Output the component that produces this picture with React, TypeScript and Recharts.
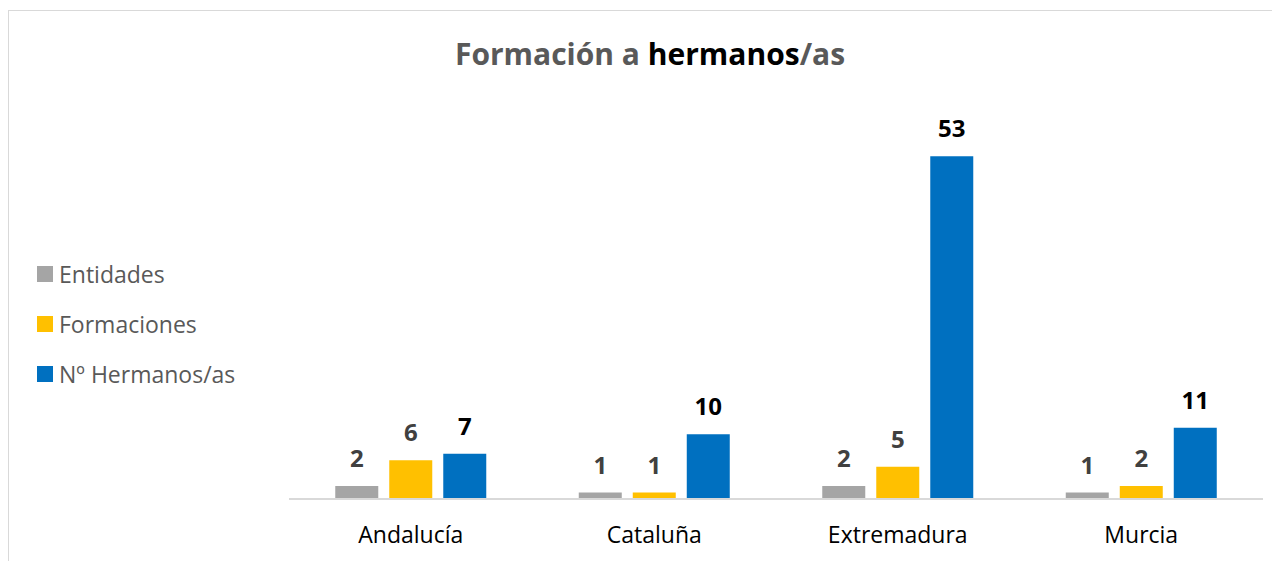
import { Bar, BarChart, LabelList, XAxis, YAxis } from "recharts"

const REGIONS = ["Andalucía", "Cataluña", "Extremadura", "Murcia"]
const ENTIDADES = [2, 1, 2, 1]
const FORMACIONES = [6, 1, 5, 2]
const HERMANOS = [7, 10, 53, 11]

const SERIES = [
  { key: "entidades", name: "Entidades", color: "#A5A5A5", label: "#404040" },
  { key: "formaciones", name: "Formaciones", color: "#FFC000", label: "#404040" },
  { key: "hermanos", name: "Nº Hermanos/as", color: "#0070C0", label: "#000000" },
]

const data = REGIONS.map((name, i) => ({
  name,
  entidades: ENTIDADES[i],
  formaciones: FORMACIONES[i],
  hermanos: HERMANOS[i],
}))

const FONT = "'Open Sans', 'Noto Sans', sans-serif"

// Legend on the left, stacked vertically like the Excel original.
function SideLegend() {
  return (
    <div style={{ position: "absolute", left: 28, top: 238, fontFamily: FONT }}>
      {SERIES.map((s) => (
        <div key={s.key} style={{ display: "flex", alignItems: "center", height: 50, color: "#595959", fontSize: 23 }}>
          <span style={{ width: 16, height: 16, background: s.color, marginRight: 6, display: "inline-block" }} />
          {s.name}
        </div>
      ))}
    </div>
  )
}

export default function App() {
  return (
    <div style={{ position: "relative", width: 1272, height: 551, marginTop: 2, border: "1px solid #d9d9d9", borderRight: "none", borderBottom: "none", background: "#fff", boxSizing: "border-box", fontFamily: FONT }}>
      <div style={{ position: "absolute", top: 22, left: 0, width: 1282, textAlign: "center", fontSize: 30, fontWeight: 700, color: "#595959" }}>
        Formación a <span style={{ color: "#000" }}>hermanos</span>/as
      </div>
      <SideLegend />
      <BarChart width={1272} height={551} data={data} margin={{ top: 100, right: 18, left: 280, bottom: 8 }} barGap={11} barCategoryGap="19%">
        <XAxis
          dataKey="name"
          tick={{ fill: "#000", fontSize: 23, fontFamily: FONT }}
          tickLine={false}
          axisLine={{ stroke: "#d9d9d9", strokeWidth: 2 }}
          height={55}
          tickMargin={22}
        />
        <YAxis hide domain={[0, 60]} />
        {SERIES.map((s) => (
          <Bar key={s.key} dataKey={s.key} name={s.name} fill={s.color} isAnimationActive={false}>
            <LabelList dataKey={s.key} position="top" offset={19} style={{ fill: s.label, fontSize: 24, fontWeight: 700, fontFamily: FONT }} />
          </Bar>
        ))}
      </BarChart>
    </div>
  )
}
